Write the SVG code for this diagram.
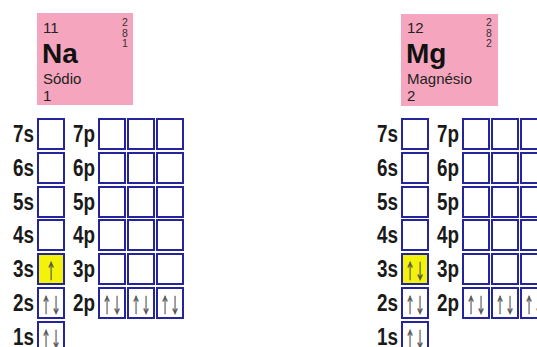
<svg xmlns="http://www.w3.org/2000/svg" width="537" height="347" viewBox="0 0 537 347">
<style>
.card{fill:#f5a6be}
.num{font-family:"Liberation Sans",Arial,sans-serif;font-size:15px;fill:#222}
.sym{font-family:"Liberation Sans",Arial,sans-serif;font-size:28px;font-weight:bold;fill:#111}
.sh{font-family:"Liberation Sans",Arial,sans-serif;font-size:10.5px;fill:#333;text-anchor:middle}
.box{fill:#fff;stroke:#24249c;stroke-width:2}
.hl{fill:#f2f20a}
.lbl{font-family:"Liberation Sans",Arial,sans-serif;font-size:23px;font-weight:bold;fill:#1a1a1a;text-anchor:end}
.arr{font-family:"Noto Sans CJK JP","DejaVu Sans",sans-serif;font-size:20px;fill:#505050;stroke:#505050;stroke-width:0.6;text-anchor:middle}
</style>
<defs>
<g id="grid">
  <text class="lbl" x="34" y="142" textLength="21" lengthAdjust="spacingAndGlyphs">7s</text>
  <text class="lbl" x="34" y="176" textLength="21" lengthAdjust="spacingAndGlyphs">6s</text>
  <text class="lbl" x="34" y="210" textLength="21" lengthAdjust="spacingAndGlyphs">5s</text>
  <text class="lbl" x="34" y="243" textLength="21" lengthAdjust="spacingAndGlyphs">4s</text>
  <text class="lbl" x="34" y="277" textLength="21" lengthAdjust="spacingAndGlyphs">3s</text>
  <text class="lbl" x="34" y="311" textLength="21" lengthAdjust="spacingAndGlyphs">2s</text>
  <text class="lbl" x="34" y="345" textLength="21" lengthAdjust="spacingAndGlyphs">1s</text>
  <text class="lbl" x="95" y="142" textLength="22" lengthAdjust="spacingAndGlyphs">7p</text>
  <text class="lbl" x="95" y="176" textLength="22" lengthAdjust="spacingAndGlyphs">6p</text>
  <text class="lbl" x="95" y="210" textLength="22" lengthAdjust="spacingAndGlyphs">5p</text>
  <text class="lbl" x="95" y="243" textLength="22" lengthAdjust="spacingAndGlyphs">4p</text>
  <text class="lbl" x="95" y="277" textLength="22" lengthAdjust="spacingAndGlyphs">3p</text>
  <text class="lbl" x="95" y="311" textLength="22" lengthAdjust="spacingAndGlyphs">2p</text>
  <rect class="box" x="38" y="119" width="26" height="30"/>
  <rect class="box" x="38" y="153" width="26" height="30"/>
  <rect class="box" x="38" y="187" width="26" height="30"/>
  <rect class="box" x="38" y="220" width="26" height="30"/>
  <rect class="box" x="38" y="288" width="26" height="30"/>
  <rect class="box" x="38" y="322" width="26" height="30"/>
  <rect class="box" x="99" y="119" width="26" height="30"/>
  <rect class="box" x="128" y="119" width="26" height="30"/>
  <rect class="box" x="157" y="119" width="26" height="30"/>
  <rect class="box" x="99" y="153" width="26" height="30"/>
  <rect class="box" x="128" y="153" width="26" height="30"/>
  <rect class="box" x="157" y="153" width="26" height="30"/>
  <rect class="box" x="99" y="187" width="26" height="30"/>
  <rect class="box" x="128" y="187" width="26" height="30"/>
  <rect class="box" x="157" y="187" width="26" height="30"/>
  <rect class="box" x="99" y="220" width="26" height="30"/>
  <rect class="box" x="128" y="220" width="26" height="30"/>
  <rect class="box" x="157" y="220" width="26" height="30"/>
  <rect class="box" x="99" y="254" width="26" height="30"/>
  <rect class="box" x="128" y="254" width="26" height="30"/>
  <rect class="box" x="157" y="254" width="26" height="30"/>
  <rect class="box" x="99" y="288" width="26" height="30"/>
  <rect class="box" x="128" y="288" width="26" height="30"/>
  <rect class="box" x="157" y="288" width="26" height="30"/>
  <text class="arr" x="51" y="313" textLength="20" lengthAdjust="spacingAndGlyphs">↑↓</text>
  <text class="arr" x="51" y="347" textLength="20" lengthAdjust="spacingAndGlyphs">↑↓</text>
  <text class="arr" x="112" y="313" textLength="20" lengthAdjust="spacingAndGlyphs">↑↓</text>
  <text class="arr" x="141" y="313" textLength="20" lengthAdjust="spacingAndGlyphs">↑↓</text>
  <text class="arr" x="170" y="313" textLength="20" lengthAdjust="spacingAndGlyphs">↑↓</text>
</g>
</defs>
<g id="na">
  <rect class="card" x="37" y="13" width="96" height="92"/>
  <text class="num" x="43" y="33">11</text>
  <text class="sym" x="42" y="63">Na</text>
  <text class="num" x="43" y="84">Sódio</text>
  <text class="num" x="43" y="101">1</text>
  <text class="sh" x="125" y="26">2</text>
  <text class="sh" x="125" y="36.5">8</text>
  <text class="sh" x="125" y="47">1</text>
  <use href="#grid"/>
  <rect class="box hl" x="38" y="254" width="26" height="30"/>
  <text class="arr" x="51" y="279" textLength="10" lengthAdjust="spacingAndGlyphs">↑</text>
</g>
<g id="mg">
  <rect class="card" x="401" y="14" width="97" height="92"/>
  <text class="num" x="407" y="33">12</text>
  <text class="sym" x="406" y="63">Mg</text>
  <text class="num" x="407" y="84">Magnésio</text>
  <text class="num" x="407" y="101">2</text>
  <text class="sh" x="489" y="26">2</text>
  <text class="sh" x="489" y="36.5">8</text>
  <text class="sh" x="489" y="47">2</text>
  <use href="#grid" transform="translate(364,0)"/>
  <rect class="box hl" x="402" y="254" width="26" height="30"/>
  <text class="arr" x="415" y="279" textLength="20" lengthAdjust="spacingAndGlyphs">↑↓</text>
</g>
</svg>
